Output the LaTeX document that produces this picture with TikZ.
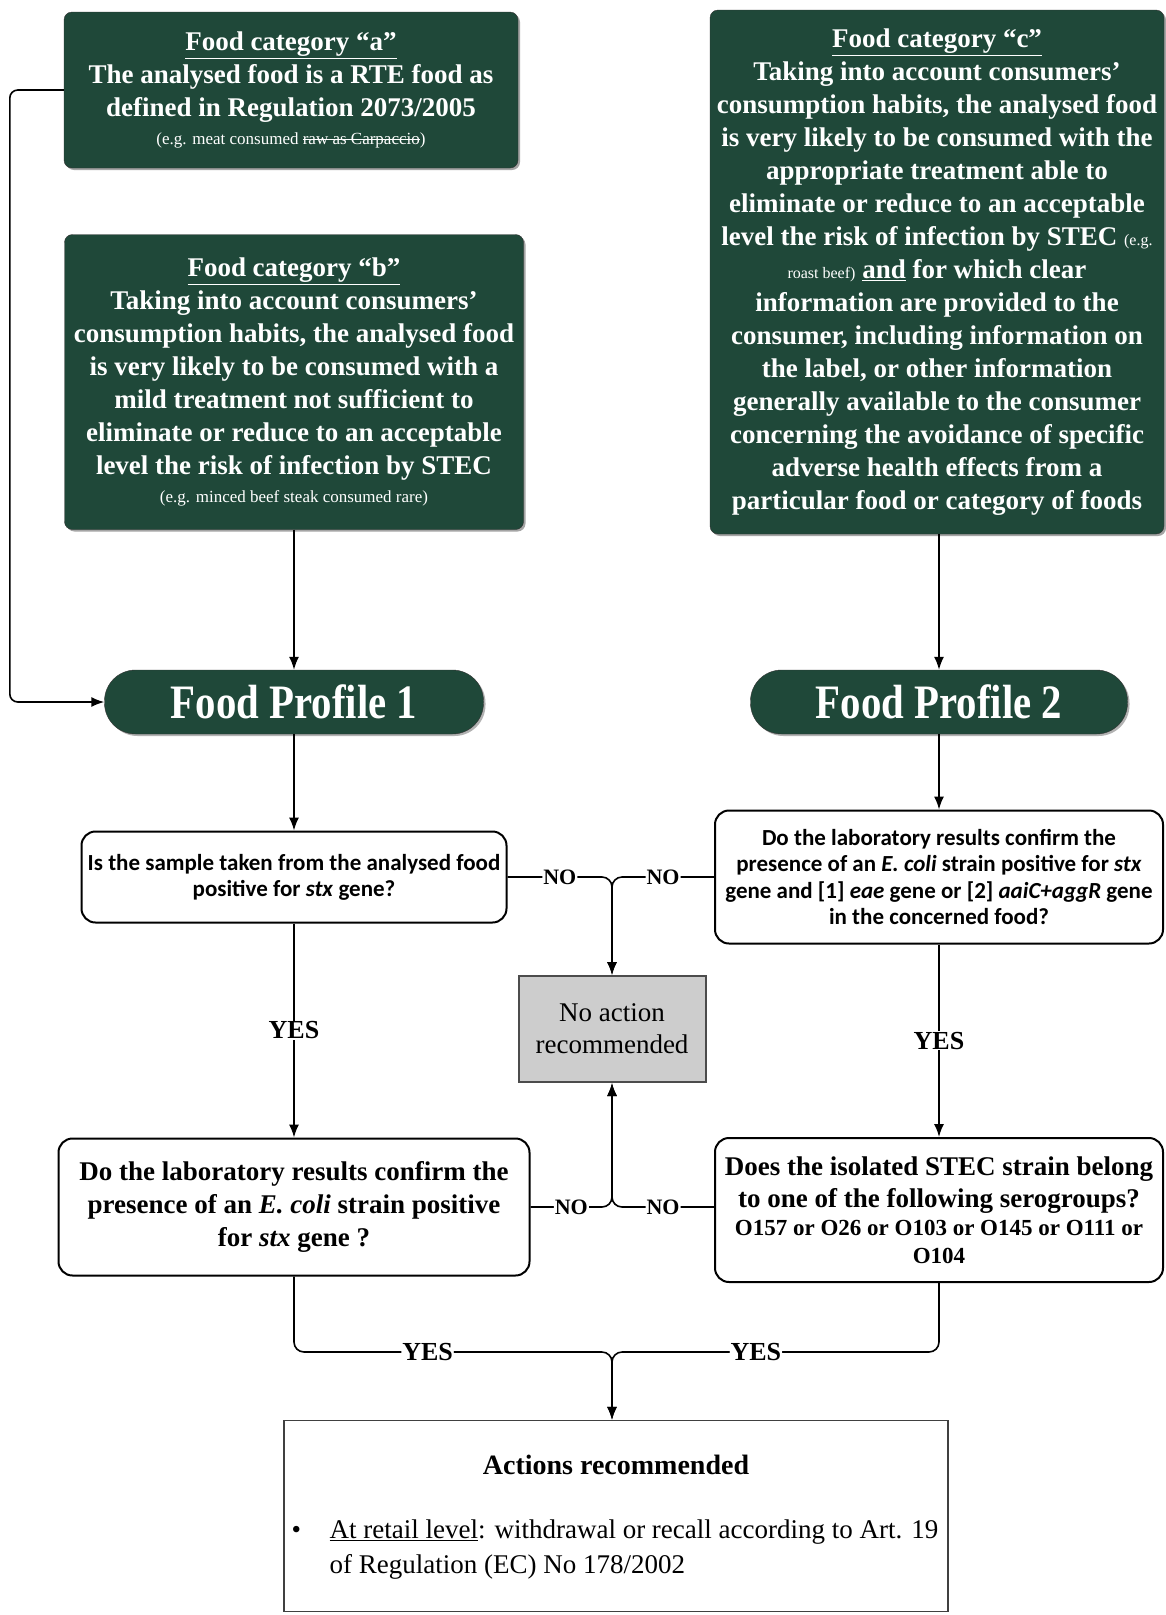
\documentclass[tikz,border=0pt]{standalone}
\usepackage{fontspec}
\setmainfont{Liberation Serif}
\newfontfamily\calibri{Carlito}
\newfontfamily\tallserif[FakeStretch=0.85]{Liberation Serif}
\definecolor{foodgreen}{RGB}{31, 72, 57}
\definecolor{speckle}{RGB}{205, 205, 205}
\newcommand{\struck}[1]{\setbox0\hbox{#1}\rlap{\rule[0.3em]{\wd0}{0.6pt}}\box0}
\usetikzlibrary{shapes,arrows.meta,shadows}
\tikzstyle{category} = [rectangle, draw=black!80, fill=foodgreen, text=white,
    rounded corners=8pt, align=center, font=\bfseries\fontsize{27}{33}\selectfont,
    drop shadow={shadow xshift=2pt, shadow yshift=-2pt, fill=black!70}]
\tikzstyle{profile} = [rectangle, draw=black!80, fill=foodgreen, text=white,
    rounded corners=31pt, minimum height=64pt, font=\tallserif\bfseries\fontsize{48}{50}\selectfont,
    drop shadow={shadow xshift=2pt, shadow yshift=-2pt, fill=black!60}]
\tikzstyle{question} = [rectangle, draw, line width=2pt, fill=white,
    rounded corners=14pt, align=center]
\tikzstyle{noaction} = [rectangle, draw=black!70, line width=2pt, fill=speckle,
    align=center, font=\fontsize{27}{32}\selectfont, minimum width=187pt, minimum height=106pt]
\tikzstyle{nolabel} = [auto=false, fill=white, inner sep=1pt, font=\bfseries\fontsize{22}{22}\selectfont]
\tikzstyle{yeslabel} = [auto=false, fill=white, inner sep=1pt, font=\bfseries\fontsize{26}{26}\selectfont]
\tikzstyle{line} = [draw, line width=1.6pt, -{Latex[length=13pt,width=10pt]}]

\begin{document}
\begin{tikzpicture}[node distance = 3cm, auto]
  \useasboundingbox[fill=white] (0pt,0pt) rectangle (1166pt,-1615pt);
  \node [category, minimum width=454pt, minimum height=156pt] (cat_a) at (291pt,-90pt)
    {\underline{Food category “a”}\\ The analysed food is a RTE food as\\ defined in Regulation 2073/2005\\[-5pt]
     {\mdseries\fontsize{17}{20}\selectfont (e.g. meat consumed \struck{raw as Carpaccio})}};
  \node [category, below of=cat_a, xshift=3pt, node distance=292pt, minimum width=459pt, minimum height=295pt] (cat_b)
    {\underline{Food category “b”}\\ Taking into account consumers’\\ consumption habits, the analysed food\\
     is very likely to be consumed with a\\ mild treatment not sufficient to\\ eliminate or reduce to an acceptable\\
     level the risk of infection by STEC\\[-5pt] {\mdseries\fontsize{17}{20}\selectfont (e.g. minced beef steak consumed rare)}};
  \node [category, minimum width=454pt, minimum height=524pt] (cat_c) at (937pt,-272pt)
    {\underline{Food category “c”}\\ Taking into account consumers’\\ consumption habits, the analysed food\\
     is very likely to be consumed with the\\ appropriate treatment able to\\ eliminate or reduce to an acceptable\\
     level the risk of infection by STEC {\mdseries\fontsize{16}{18}\selectfont (e.g.}\\
     {\mdseries\fontsize{16}{18}\selectfont roast beef)} \underline{and} for which clear\\ information are provided to the\\
     consumer, including information on\\ the label, or other information\\ generally available to the consumer\\
     concerning the avoidance of specific\\ adverse health effects from a\\ particular food or category of foods};
  \node [profile, below of=cat_b, node distance=320pt, minimum width=379pt] (fp1) {Food Profile 1};
  \node [profile, right of=fp1, node distance=645pt, minimum width=377pt] (fp2) {Food Profile 2};
  \path [line] (cat_b) -- (fp1);
  \path [line] (cat_c.south -| fp2.north) -- (fp2.north);
  \path [line, rounded corners=8pt] (cat_a.west) -- ++(-54pt,0pt) |- (fp1.west);
  \node [question, below of=fp1, node distance=175pt, minimum width=425pt, minimum height=91pt,
    font=\calibri\bfseries\fontsize{23}{26}\selectfont] (q1)
    {Is the sample taken from the analysed food\\ positive for \textit{stx} gene?};
  \node [question, right of=q1, node distance=645pt, minimum width=448pt, minimum height=133pt,
    font=\calibri\bfseries\fontsize{23}{26.5}\selectfont] (q2)
    {Do the laboratory results confirm the\\ presence of an \textit{E. coli} strain positive for \textit{stx}\\
     gene and [1] \textit{eae} gene or [2] \textit{aaiC+aggR} gene\\ in the concerned food?};
  \path [line] (fp1) -- (q1);
  \path [line] (fp2) -- (q2);
  \node [noaction] (no_action) at (612pt,-1029pt) {No action\\ recommended};
  \node [question, below of=q1, node distance=330pt, minimum width=471pt, minimum height=137pt,
    font=\bfseries\fontsize{27}{33}\selectfont] (q3)
    {Do the laboratory results confirm the\\ presence of an \textit{E. coli} strain positive\\ for \textit{stx} gene ?};
  \node [question, right of=q3, node distance=645pt, yshift=-3pt, minimum width=448pt, minimum height=144pt,
    font=\bfseries\fontsize{27}{32}\selectfont] (q4)
    {Does the isolated STEC strain belong\\ to one of the following serogroups?\\[-4pt]
     {\fontsize{23}{28}\selectfont O157 or O26 or O103 or O145 or O111 or}\\[-4pt] {\fontsize{23}{28}\selectfont O104}};
  \path [line] (q1) -- node[yeslabel]{YES} (q3);
  \path [line] (q2) -- node[yeslabel]{YES} (q4);
  \path [line, rounded corners=10pt] (q1.east) -- node[nolabel]{NO} (q1.east -| no_action) -- (no_action.north);
  \path [line, rounded corners=10pt] (q2.west) -- node[nolabel]{NO} (q2.west -| no_action) -- (no_action.north);
  \path [line, rounded corners=10pt] (q3.east) -- node[nolabel]{NO} (q3.east -| no_action) -- (no_action.south);
  \path [line, rounded corners=10pt] (q4.west |- q3.east) -- node[nolabel]{NO} (q3.east -| no_action) -- (no_action.south);
  \node [rectangle, draw=black!75, line width=1.2pt, minimum width=664pt, minimum height=191pt] (actions) at (616pt,-1516pt) {};
  \node [font=\bfseries\fontsize{28}{30}\selectfont] (act_title) at ([yshift=-45pt]actions.north) {Actions recommended};
  \node [anchor=north west, inner sep=0pt, align=left, font=\fontsize{27}{35}\selectfont] (act_item)
    at ([xshift=8pt, yshift=-100pt]actions.north west)
    {\makebox[38pt][l]{\textbullet}\underline{At retail level}: withdrawal or recall according to Art. 19\\
     \hspace*{38pt}of Regulation (EC) No 178/2002};
  \coordinate (yes_join) at (612pt,-1352pt);
  \path [line, rounded corners=10pt] (q3.south) |- node[yeslabel, pos=0.71]{YES} (yes_join) -- (actions.north -| yes_join);
  \path [line, rounded corners=10pt] (q4.south) |- node[yeslabel, pos=0.78]{YES} (yes_join) -- (actions.north -| yes_join);
\end{tikzpicture}
\end{document}
